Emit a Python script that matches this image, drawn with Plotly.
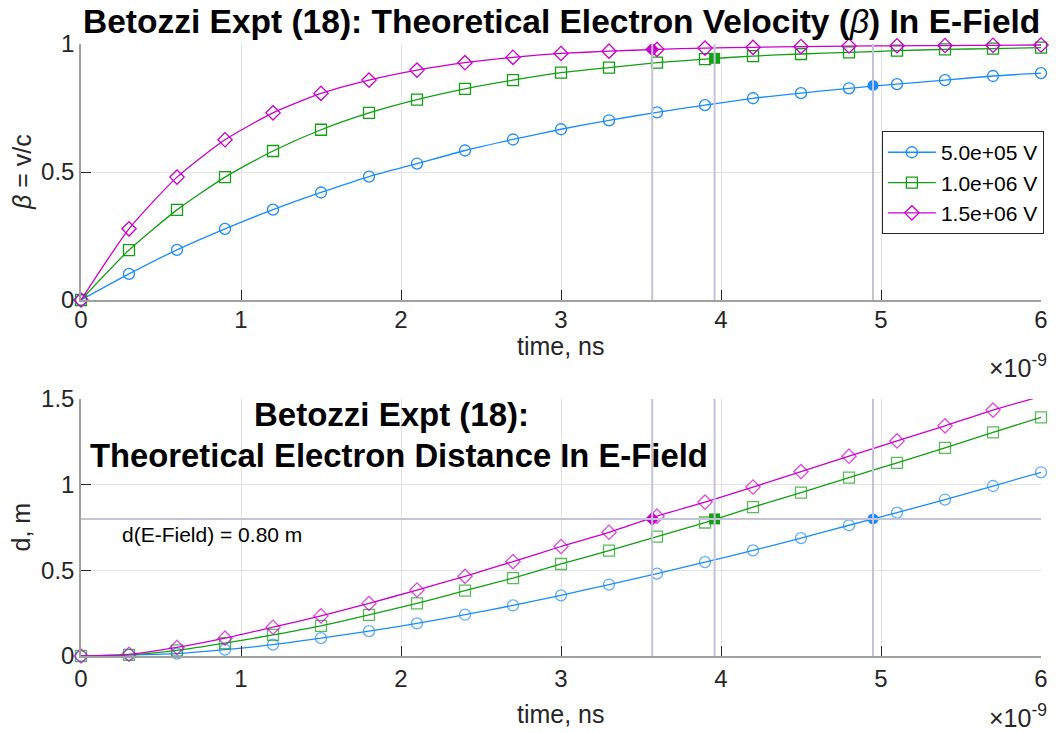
import plotly.graph_objects as go

# ---- data ----
t_ns = [0.0, 0.3, 0.6, 0.9, 1.2, 1.5, 1.8, 2.1, 2.4, 2.7, 3.0,
        3.3, 3.6, 3.9, 4.2, 4.5, 4.8, 5.1, 5.4, 5.7, 6.0]

labels = ["5.0e+05 V", "1.0e+06 V", "1.5e+06 V"]

beta_500kV = [0.0, 0.102, 0.196, 0.278, 0.353, 0.420, 0.482, 0.533, 0.584, 0.627, 0.667,
              0.702, 0.733, 0.761, 0.788, 0.808, 0.827, 0.843, 0.859, 0.875, 0.886]
beta_1MV = [0.0, 0.195, 0.352, 0.480, 0.582, 0.665, 0.731, 0.783, 0.825, 0.859, 0.888,
            0.908, 0.927, 0.941, 0.953, 0.961, 0.967, 0.974, 0.979, 0.982, 0.986]
beta_15MV = [0.0, 0.278, 0.480, 0.626, 0.731, 0.807, 0.859, 0.898, 0.927, 0.948, 0.963,
             0.972, 0.979, 0.984, 0.987, 0.990, 0.992, 0.993, 0.994, 0.995, 0.996]

d_500kV = [0.0, 0.006, 0.014, 0.037, 0.066, 0.104, 0.145, 0.190, 0.241, 0.295, 0.354,
           0.417, 0.481, 0.548, 0.616, 0.688, 0.763, 0.837, 0.913, 0.992, 1.072]
d_1MV = [0.0, 0.007, 0.033, 0.075, 0.123, 0.176, 0.240, 0.307, 0.381, 0.455, 0.537,
         0.615, 0.697, 0.779, 0.869, 0.953, 1.041, 1.127, 1.215, 1.305, 1.393]
d_15MV = [0.0, 0.010, 0.050, 0.104, 0.168, 0.234, 0.307, 0.385, 0.465, 0.551, 0.639,
          0.722, 0.816, 0.898, 0.986, 1.076, 1.166, 1.255, 1.343, 1.435, 1.515]

d_field = 0.80
cross_t = [4.95, 3.96, 3.57]          # time (ns) at which d = d_field
cross_beta = [0.838, 0.944, 0.979]    # beta at that time

colors = ["#1a8cff", "#13a013", "#cc00cc"]
symbols = ["circle-open", "square-open", "diamond-open"]
filled = ["circle", "square", "diamond"]
ref_col = "#c3c3da"

betas = [beta_500kV, beta_1MV, beta_15MV]
dists = [d_500kV, d_1MV, d_15MV]
D_MAX = 1.5

fig = go.Figure()
FONT = "Liberation Sans, Arial, sans-serif"
TXT = "#262626"

for i in range(3):
    fig.add_trace(go.Scatter(
        x=t_ns, y=betas[i], mode="lines+markers", name=labels[i],
        line=dict(color=colors[i], width=1.3, shape="spline", smoothing=0.6),
        marker=dict(symbol=symbols[i], size=11, color=colors[i], line=dict(width=1.3, color=colors[i])),
        xaxis="x", yaxis="y", cliponaxis=False))
for i in range(3):
    sizes = [11 if v <= D_MAX else 0 for v in dists[i]]
    fig.add_trace(go.Scatter(
        x=t_ns, y=dists[i], mode="lines", showlegend=False,
        line=dict(color=colors[i], width=1.3, shape="spline", smoothing=0.6),
        xaxis="x2", yaxis="y2"))
    fig.add_trace(go.Scatter(
        x=t_ns, y=dists[i], mode="markers", showlegend=False,
        marker=dict(symbol=symbols[i], size=sizes, color=colors[i], line=dict(width=1.3, color=colors[i])),
        xaxis="x2", yaxis="y2", cliponaxis=False))
for i in range(3):
    fig.add_trace(go.Scatter(
        x=[cross_t[i]], y=[cross_beta[i]], mode="markers", showlegend=False,
        marker=dict(symbol=filled[i], size=11, color=colors[i]),
        xaxis="x", yaxis="y"))
    fig.add_trace(go.Scatter(
        x=[cross_t[i]], y=[d_field], mode="markers", showlegend=False,
        marker=dict(symbol=filled[i], size=11, color=colors[i]),
        xaxis="x2", yaxis="y2"))

shapes = []
for i in range(3):
    for xr, yr in (("x", "y domain"), ("x2", "y2 domain")):
        shapes.append(dict(type="line", xref=xr, yref=yr, x0=cross_t[i], x1=cross_t[i],
                           y0=0, y1=1, line=dict(color=ref_col, width=2)))
shapes.append(dict(type="line", xref="x2 domain", yref="y2", x0=0, x1=1,
                   y0=d_field, y1=d_field, line=dict(color=ref_col, width=2)))

axis_common = dict(
    showgrid=True, gridcolor="#e3e3e3", gridwidth=1,
    showline=True, linecolor="#a0a0a0", linewidth=1.5,
    ticks="inside", ticklen=10, tickcolor="#262626", tickwidth=1,
    tickfont=dict(family=FONT, size=24, color=TXT),
    zeroline=False, mirror=False,
)

fig.update_layout(
    width=1056, height=733,
    margin=dict(l=81, r=8, t=44, b=77),
    paper_bgcolor="white", plot_bgcolor="white",
    shapes=shapes,
    showlegend=True,
    legend=dict(x=1.003, y=0.8577, xanchor="right", yanchor="top",
                bgcolor="white", bordercolor="#262626", borderwidth=1,
                font=dict(family=FONT, size=21, color="#000000"),
                tracegroupgap=0, itemwidth=48),
    xaxis=dict(domain=[0, 1], range=[0, 6], tickvals=[0, 1, 2, 3, 4, 5, 6],
               anchor="y", ticklabelstandoff=-3, **axis_common),
    yaxis=dict(domain=[0.5817, 1], range=[0, 1], tickvals=[0, 0.5, 1],
               anchor="x", **axis_common),
    xaxis2=dict(domain=[0, 1], range=[0, 6], tickvals=[0, 1, 2, 3, 4, 5, 6],
                anchor="y2", **axis_common),
    yaxis2=dict(domain=[0, 0.42], range=[0, D_MAX], tickvals=[0, 0.5, 1, 1.5],
                anchor="x2", **axis_common),
)

ann = []
ann.append(dict(text="<b>Betozzi Expt (18): Theoretical Electron Velocity (</b><i>β</i><b>) In E-Field</b>",
                xref="paper", yref="paper", x=0.5, y=1.0, xanchor="center", yanchor="middle",
                yshift=23, showarrow=False, font=dict(family=FONT, size=33.5, color="black")))
ann.append(dict(text="<b>Betozzi Expt (18):</b>", xref="x2", yref="y2", x=1.94, y=1.407,
                xanchor="center", yanchor="middle", showarrow=False,
                font=dict(family=FONT, size=33, color="black")))
ann.append(dict(text="<b>Theoretical Electron Distance In E-Field</b>", xref="x2", yref="y2",
                x=1.985, y=1.169, xanchor="center", yanchor="middle", showarrow=False,
                font=dict(family=FONT, size=32.8, color="black")))
ann.append(dict(text="d(E-Field) = 0.80 m", xref="x2", yref="y2", x=0.246, y=0.709,
                xanchor="left", yanchor="middle", showarrow=False,
                font=dict(family=FONT, size=21, color="black")))
ann.append(dict(text="time, ns", xref="paper", yref="y domain", x=0.5, y=0, yshift=-46,
                xanchor="center", yanchor="middle", showarrow=False,
                font=dict(family=FONT, size=25, color=TXT)))
ann.append(dict(text="time, ns", xref="paper", yref="y2 domain", x=0.5, y=0, yshift=-58,
                xanchor="center", yanchor="middle", showarrow=False,
                font=dict(family=FONT, size=25, color=TXT)))
ann.append(dict(text="<i>β</i> = v/c", xref="paper", yref="y domain", x=0, xshift=-59, y=0.5,
                textangle=-90, xanchor="center", yanchor="middle", showarrow=False,
                font=dict(family=FONT, size=25, color=TXT)))
ann.append(dict(text="d, m", xref="paper", yref="y2 domain", x=0, xshift=-60, y=0.5,
                textangle=-90, xanchor="center", yanchor="middle", showarrow=False,
                font=dict(family=FONT, size=25, color=TXT)))
ann.append(dict(text="×10<sup>-9</sup>", xref="paper", yref="y domain", x=1, y=0, yshift=-66,
                xshift=8, xanchor="right", yanchor="middle", showarrow=False,
                font=dict(family=FONT, size=25, color=TXT)))
ann.append(dict(text="×10<sup>-9</sup>", xref="paper", yref="y2 domain", x=1, y=0, yshift=-60,
                xshift=8, xanchor="right", yanchor="middle", showarrow=False,
                font=dict(family=FONT, size=25, color=TXT)))
fig.update_layout(annotations=ann)

fig.write_html("out.html")
